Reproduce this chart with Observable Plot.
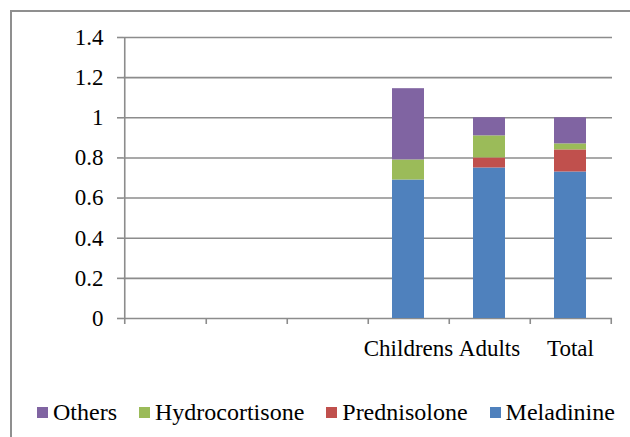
<!DOCTYPE html>
<html>
<head>
<meta charset="utf-8">
<script src="https://cdn.jsdelivr.net/npm/d3@7"></script>
<script src="https://cdn.jsdelivr.net/npm/@observablehq/plot@0.6"></script>
<style>
  html, body { margin: 0; padding: 0; background: #fff; }
  #wrap { position: relative; width: 630px; height: 437px; overflow: hidden; background: #fff; }
  #frame { position: absolute; left: 10px; top: 10px; width: 700px; height: 600px; border-top: 2px solid #8f8f8f; border-left: 2px solid #8f8f8f; box-sizing: border-box; }
  #chart { position: absolute; left: 0; top: 0; }
  #legend { position: absolute; left: 37px; top: 399px; display: flex; align-items: center; font-family: 'Liberation Serif'; font-size: 24px; color: #000; white-space: nowrap; }
  #legend span { font-family: 'Liberation Serif'; }
  .item { display: flex; align-items: center; margin-right: 22px; }
  .sw { width: 11px; height: 11px; margin-right: 5px; display: inline-block; }
</style>
</head>
<body>
<div id="wrap">
  <div id="frame"></div>
  <div id="chart"></div>
  <div id="legend"></div>
</div>
<script>
// ---- data ----
const categories = ["Childrens", "Adults", "Total"];
const emptySlots = ["_a", "_b", "_c"];
const series = ["Meladinine", "Prednisolone", "Hydrocortisone", "Others"];
const meladinine = [0.69, 0.75, 0.73];
const prednisolone = [0.0, 0.05, 0.11];
const hydrocortisone = [0.10, 0.11, 0.03];
const others = [0.355, 0.09, 0.13];
const yTicks = [0, 0.2, 0.4, 0.6, 0.8, 1, 1.2, 1.4];
const colors = ["#4F81BD", "#C0504D", "#9BBB59", "#8064A2"];
const legendOrder = ["Others", "Hydrocortisone", "Prednisolone", "Meladinine"];

const valuesBySeries = [meladinine, prednisolone, hydrocortisone, others];
const rows = [];
categories.forEach((c, i) => {
  series.forEach((s, j) => rows.push({category: c, series: s, value: valuesBySeries[j][i]}));
});
const domainX = [...emptySlots, ...categories];

const W = 630, H = 370, ML = 123, MR = 18, MT = 37, MB = 52;
const half = (W - ML - MR) / domainX.length / 2;
const axisGray = "#8c8c8c";
const serif = "Liberation Serif";

const chart = Plot.plot({
  width: W, height: H,
  marginLeft: ML, marginRight: MR, marginTop: MT, marginBottom: MB,
  style: {fontFamily: serif, fontSize: "23px", color: "#000", background: "transparent"},
  x: {domain: domainX, paddingInner: 0.6, paddingOuter: 0.3, axis: null, label: null},
  y: {domain: [0, 1.4], axis: null, label: null},
  color: {domain: series, range: colors},
  marks: [
    Plot.ruleY(yTicks, {y: d => d, stroke: axisGray, strokeWidth: 1.6}),
    Plot.rectY(rows, Plot.stackY({x: "category", y: "value", fill: "series"})),
    Plot.ruleX([domainX[0]], {x: d => d, y1: 1.4, y2: 0, dx: -half, insetBottom: -6, stroke: axisGray, strokeWidth: 1.6}),
    Plot.ruleX(domainX, {x: d => d, y1: 0, y2: 0, dx: half, insetBottom: -6, stroke: axisGray, strokeWidth: 1.6}),
    Plot.axisY(yTicks, {label: null, tickSize: 6, tickPadding: 14, stroke: axisGray, strokeWidth: 1.6, fontSize: 23, fontFamily: serif, fill: "#000", tickFormat: d => String(d)}),
    Plot.axisX(domainX, {label: null, tickSize: 0, tickPadding: 21, fontSize: 23, fontFamily: serif, fill: "#000", tickFormat: d => categories.includes(d) ? d : ""})
  ]
});
document.getElementById("chart").appendChild(chart);

const legend = document.getElementById("legend");
legendOrder.forEach(s => {
  const item = document.createElement("div");
  item.className = "item";
  const sw = document.createElement("span");
  sw.className = "sw";
  sw.style.background = colors[series.indexOf(s)];
  const t = document.createElement("span");
  t.textContent = s;
  item.appendChild(sw); item.appendChild(t);
  legend.appendChild(item);
});
</script>
</body>
</html>
